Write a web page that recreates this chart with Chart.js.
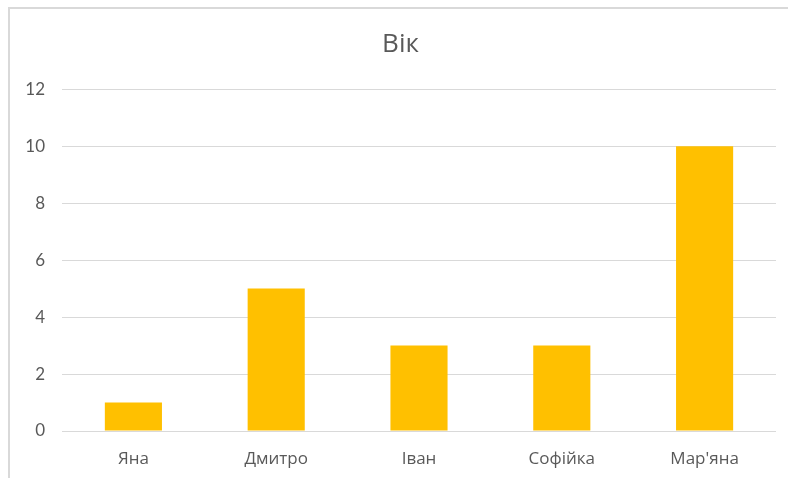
<!DOCTYPE html>
<html>
<head>
<meta charset="utf-8">
<script src="https://cdn.jsdelivr.net/npm/chart.js@4.4.0/dist/chart.umd.min.js"></script>
<style>
  html, body { margin: 0; padding: 0; background: #fff; overflow: hidden; }
  #frame {
    position: absolute; left: 8px; top: 7px; width: 800px; height: 500px;
    border-left: 2px solid #d9d9d9; border-top: 2px solid #d9d9d9;
  }
  #wrap { position: absolute; left: 0; top: 0; width: 788px; height: 478px; }
</style>
</head>
<body>
<div id="frame"></div>
<div id="wrap"><canvas id="graficaVik"></canvas></div>
<script>
const names = ['Яна', 'Дмитро', 'Іван', 'Софійка', "Мар'яна"];
const ages = [1, 5, 3, 3, 10];
const yTicks = [0, 2, 4, 6, 8, 10, 12];

const font = "'Open Sans', 'Noto Sans', sans-serif";
const tickFont = "Lato, 'Open Sans', sans-serif";
const grey = '#595959';

const ctx = document.getElementById('graficaVik').getContext('2d');
new Chart(ctx, {
  type: 'bar',
  data: {
    labels: names,
    datasets: [{
      label: 'Вік',
      data: ages,
      backgroundColor: '#ffc000',
      borderWidth: 0,
      categoryPercentage: 1,
      barPercentage: 0.4
    }]
  },
  options: {
    responsive: true,
    maintainAspectRatio: false,
    animation: false,
    layout: { padding: { left: 25, right: 12, top: 0, bottom: 0 } },
    plugins: {
      legend: { display: false },
      tooltip: { enabled: false },
      title: {
        display: true,
        text: 'Вік',
        color: grey,
        font: { family: font, size: 26, weight: 'normal', lineHeight: 1.2 },
        padding: { top: 29, bottom: 29 }
      }
    },
    scales: {
      x: {
        grid: { display: false },
        border: { display: false },
        ticks: { color: grey, font: { family: font, size: 17 }, padding: 10 },
        afterFit: (scale) => { scale.height = 478 - 431; }
      },
      y: {
        min: 0,
        max: yTicks[yTicks.length - 1],
        afterBuildTicks: (scale) => { scale.ticks = yTicks.map(v => ({ value: v })); },
        grid: { color: '#d9d9d9', lineWidth: 1, drawTicks: false },
        border: { display: false },
        ticks: { color: grey, font: { family: tickFont, size: 17 }, padding: 17 },
        afterFit: (scale) => { scale.width = 62 - 25; }
      }
    }
  }
});
</script>
</body>
</html>
